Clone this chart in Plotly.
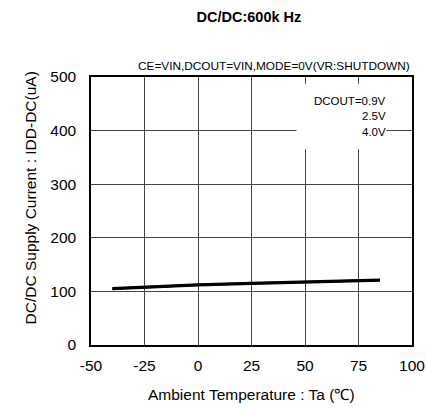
import plotly.graph_objects as go

# Ambient temperature (degC) and supply current (uA) per DCOUT setting
temps = [-40, -25, 0, 25, 50, 75, 85]
idd_09v = [104, 107, 111, 114, 117, 119, 120]
idd_25v = [105, 108, 112, 115, 118, 120, 121]
idd_40v = [106, 109, 113, 116, 119, 121, 122]

legend_labels = ["DCOUT=0.9V", "2.5V", "4.0V"]
x_ticks = [-50, -25, 0, 25, 50, 75, 100]
x_ticktext = ["-50", "-25", "0", "25", "50", "75", "100"]
y_ticks = [0, 100, 200, 300, 400, 500]

fig = go.Figure()
for ys in (idd_09v, idd_25v, idd_40v):
    fig.add_trace(go.Scatter(x=temps, y=ys, mode="lines",
                             line=dict(color="black", width=2.2), showlegend=False))

font = "Liberation Sans, Arial, sans-serif"
fig.update_layout(
    width=427, height=409,
    margin=dict(l=91, r=15, t=77, b=64),
    paper_bgcolor="white", plot_bgcolor="white",
    font=dict(family=font, color="black", size=12),
    title=dict(text="<b>DC/DC:600k Hz</b>", x=0.583, xanchor="center",
               y=0.958, yanchor="middle", font=dict(size=14.5)),
    xaxis=dict(range=[-50, 100], tickvals=x_ticks, ticktext=x_ticktext, showgrid=True,
               gridcolor="#444", gridwidth=1, showline=True, linecolor="black",
               linewidth=1.5, mirror=True, zeroline=False, automargin=False,
               ticks="outside", ticklen=6, tickcolor="rgba(0,0,0,0)",
               ticklabeloverflow="allow", tickfont=dict(size=15.5)),
    yaxis=dict(range=[0, 500], tickvals=y_ticks, showgrid=True,
               gridcolor="#444", gridwidth=1, showline=True, linecolor="black",
               linewidth=1.5, mirror=True, zeroline=False, automargin=False,
               ticks="outside", ticklen=10, tickcolor="rgba(0,0,0,0)",
               tickfont=dict(size=15.5)),
)

# axis titles
fig.add_annotation(text="Ambient Temperature : Ta (℃)", xref="paper", yref="paper",
                   x=0.5, y=-0.185, xanchor="center", yanchor="middle",
                   showarrow=False, font=dict(size=15.5))
fig.add_annotation(text="DC/DC Supply Current : IDD-DC(uA)", xref="paper", yref="paper",
                   x=-0.19, y=0.547, xanchor="center", yanchor="middle", textangle=-90,
                   showarrow=False, font=dict(size=15.5))

fig.add_annotation(text="CE=VIN,DCOUT=VIN,MODE=0V(VR:SHUTDOWN)", xref="paper", yref="paper",
                   x=1.0, y=1.0, xanchor="right", yanchor="bottom", yshift=2,
                   showarrow=False, font=dict(size=11.8))

# white box behind the DCOUT labels
fig.add_shape(type="rect", xref="paper", yref="paper", x0=0.64, x1=0.92, y0=0.73, y1=0.975,
              fillcolor="white", line=dict(width=0), layer="above")
for i, lab in enumerate(legend_labels):
    fig.add_annotation(text=lab, xref="paper", yref="paper", x=0.925, y=0.912 - i * 0.058,
                       xanchor="right", yanchor="middle", showarrow=False, font=dict(size=11.5))

# drop the default 8px body margin so the figure fills the window exactly
fig.write_html("out.html", config={"displayModeBar": False},
               post_script="document.body.style.margin = '0';")
